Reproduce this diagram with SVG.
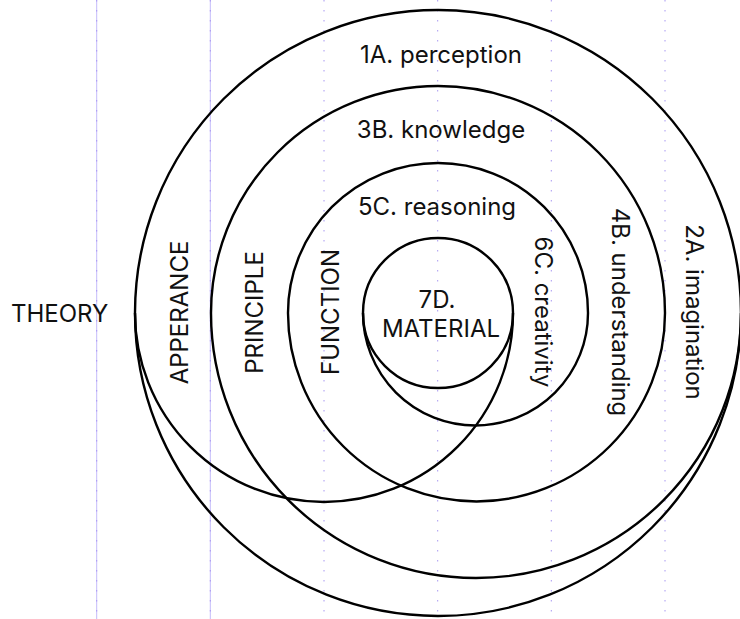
<svg xmlns="http://www.w3.org/2000/svg" width="740" height="619" viewBox="0 0 740 619">
<style>
.grid-solid{stroke:#c4bbfa;stroke-width:1;fill:none}
.grid-dot{stroke:#a898f2;stroke-width:1;stroke-dasharray:1.5 8.5;fill:none}
.arc{stroke:#000;stroke-width:2.4;fill:none}
.lbl{font-family:Inter,"Liberation Sans",sans-serif;font-size:24px;fill:#111}
</style>
<rect width="740" height="619" fill="#fff"/>
<g id="grid">
<line class="grid-solid" x1="96.7" y1="0" x2="96.7" y2="619"/>
<line class="grid-solid" x1="210.3" y1="0" x2="210.3" y2="619"/>
<line class="grid-dot" x1="96.7" y1="0" x2="96.7" y2="619"/>
<line class="grid-dot" x1="210.3" y1="0" x2="210.3" y2="619"/>
<line class="grid-dot" x1="324" y1="0" x2="324" y2="619"/>
<line class="grid-dot" x1="437.7" y1="0" x2="437.7" y2="619"/>
<line class="grid-dot" x1="551.3" y1="0" x2="551.3" y2="619"/>
<line class="grid-dot" x1="665" y1="0" x2="665" y2="619"/>
</g>
<g id="connectors">
<path class="arc" d="M135 313 A303 303 0 0 1 741 313 A303 303 0 0 1 135 313"/>
<path class="arc" d="M211 313 A227 227 0 0 1 665 313"/>
<path class="arc" d="M288 313 A150 150 0 0 1 588 313"/>
<path class="arc" d="M363 313 A75 75 0 0 1 513 313 A75 75 0 0 1 363 313"/>
<path class="arc" d="M135 313 A189 189 0 0 0 513 313"/>
<path class="arc" d="M211 313 A265 265 0 0 0 741 313"/>
<path class="arc" d="M288 313 A188.5 188.5 0 0 0 665 313"/>
<path class="arc" d="M363 313 A112.5 112.5 0 0 0 588 313"/>
</g>
<g id="theory"><text class="lbl" x="11" y="322">THEORY</text></g>
<g id="perception"><text class="lbl" x="441" y="63" text-anchor="middle">1A. perception</text></g>
<g id="knowledge"><text class="lbl" x="441" y="138" text-anchor="middle">3B. knowledge</text></g>
<g id="reasoning"><text class="lbl" x="437" y="215" text-anchor="middle">5C. reasoning</text></g>
<g id="material"><text class="lbl" x="437" y="308" text-anchor="middle">7D.</text><text class="lbl" x="441" y="337" text-anchor="middle">MATERIAL</text></g>
<g id="apperance"><text class="lbl" transform="translate(179,312.5) rotate(-90)" y="8.7" text-anchor="middle">APPERANCE</text></g>
<g id="principle"><text class="lbl" transform="translate(254.5,312.5) rotate(-90)" y="8.7" text-anchor="middle">PRINCIPLE</text></g>
<g id="function"><text class="lbl" transform="translate(330,312) rotate(-90)" y="8.7" text-anchor="middle">FUNCTION</text></g>
<g id="creativity"><text class="lbl" transform="translate(544,312) rotate(90)" y="8.7" text-anchor="middle">6C. creativity</text></g>
<g id="understanding"><text class="lbl" transform="translate(620.5,312) rotate(90)" y="8.7" text-anchor="middle">4B. understanding</text></g>
<g id="imagination"><text class="lbl" transform="translate(694.5,312) rotate(90)" y="8.7" text-anchor="middle">2A. imagination</text></g>
</svg>
